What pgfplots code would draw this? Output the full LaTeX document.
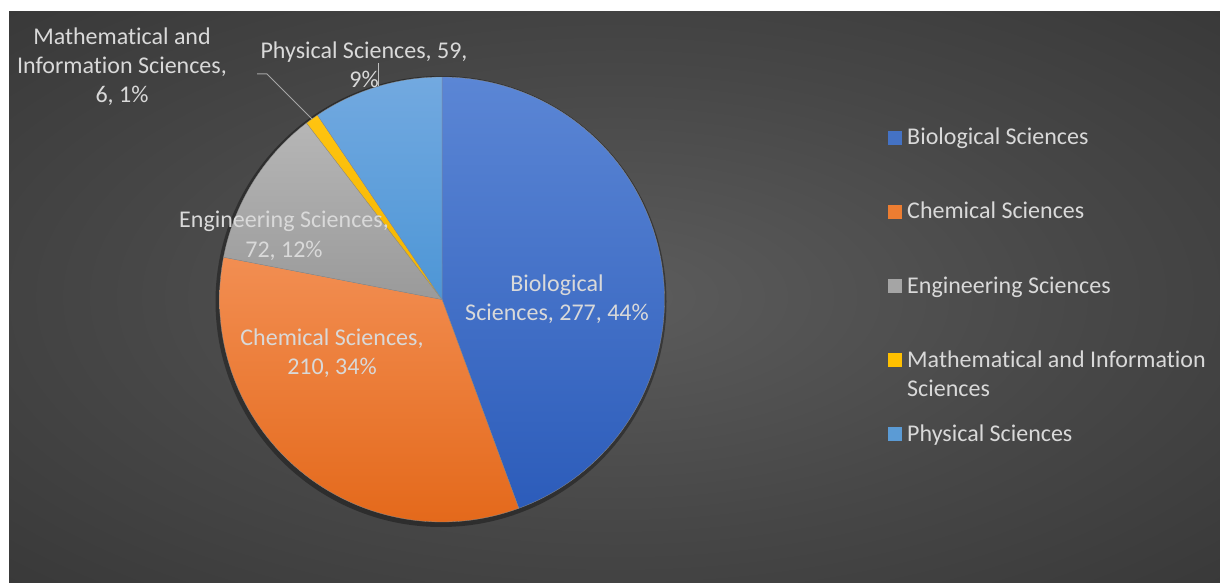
\documentclass[border=0pt]{standalone}
\usepackage{pgfplots}
\pgfplotsset{compat=1.18}
\usepackage{fontspec}
\setmainfont{Carlito}[Ligatures=NoCommon]
\definecolor{txt}{HTML}{D9D9D9}
\definecolor{bgin}{HTML}{5C5C5C}
\definecolor{bgmid}{HTML}{474747}
\definecolor{bgedge}{HTML}{2C2C2C}
\definecolor{bgcorner}{HTML}{222222}
\definecolor{bioT}{HTML}{5B86D5}
\definecolor{bioB}{HTML}{2C5CBA}
\definecolor{chemT}{HTML}{F28E52}
\definecolor{chemB}{HTML}{E4691B}
\definecolor{engT}{HTML}{B6B6B6}
\definecolor{engB}{HTML}{9A9A9A}
\definecolor{mathT}{HTML}{FFC410}
\definecolor{mathB}{HTML}{F2B400}
\definecolor{phyT}{HTML}{72A9E0}
\definecolor{phyB}{HTML}{4D96D6}
\definecolor{bio}{HTML}{4472C4}
\definecolor{chem}{HTML}{ED7D31}
\definecolor{eng}{HTML}{A5A5A5}
\definecolor{math}{HTML}{FFC000}
\definecolor{phy}{HTML}{5B9BD5}
\pgfdeclareradialshading{bgshade}{\pgfpoint{0bp}{0bp}}{color(0bp)=(bgin); color(20bp)=(bgmid); color(50bp)=(bgedge); color(72bp)=(bgcorner)}
\pgfplotstableread{
name value
Biological 277
Chemical 210
Engineering 72
Mathematical 6
Physical 59
}\piedata
\newcommand\lbl[3]{\node[font=\fontsize{24}{29}\selectfont, text=txt, inner sep=0pt, anchor=base] at (axis cs:#1,{582-#2}) {#3};}
\newcommand\leg[3]{\node[font=\fontsize{24}{29}\selectfont, text=txt, inner sep=0pt, anchor=base west] at (axis cs:#1,{582-#2}) {#3};}
\newcommand\sq[2]{\fill[#2] (axis cs:888,{582-#1+7}) rectangle (axis cs:902,{582-#1-7});}
\begin{document}
\begin{tikzpicture}
\pgfplotstablegetelem{0}{value}\of\piedata \let\vA\pgfplotsretval
\pgfplotstablegetelem{1}{value}\of\piedata \let\vB\pgfplotsretval
\pgfplotstablegetelem{2}{value}\of\piedata \let\vC\pgfplotsretval
\pgfplotstablegetelem{3}{value}\of\piedata \let\vD\pgfplotsretval
\pgfplotstablegetelem{4}{value}\of\piedata \let\vE\pgfplotsretval
\pgfmathsetmacro\tot{\vA+\vB+\vC+\vD+\vE}
\pgfmathsetmacro\aA{90}
\pgfmathsetmacro\aB{\aA-360*(\vA/\tot)}
\pgfmathsetmacro\aC{\aB-360*(\vB/\tot)}
\pgfmathsetmacro\aD{\aC-360*(\vC/\tot)}
\pgfmathsetmacro\aE{\aD-360*(\vD/\tot)}
\pgfmathsetmacro\aF{\aE-360*(\vE/\tot)}
\def\cx{442}\def\cy{282.5}\def\r{222.5}
\begin{axis}[width=1220pt, height=582pt, scale only axis, xmin=0, xmax=1220, ymin=0, ymax=582, hide axis, clip=false]
\fill[white] (axis cs:0,0) rectangle (axis cs:1220,582);
\shade[shading=bgshade] (axis cs:9,0) rectangle (axis cs:1220,570);
% shadow
\fill[black, opacity=0.35] (axis cs:{\cx-1},{\cy-2}) circle [radius=\r+3];
\addplot[draw=black!45, line width=0.3pt, top color=bioT, bottom color=bioB, domain=\aB:\aA, samples=90, variable=\t] ({\cx+\r*cos(\t)},{\cy+\r*sin(\t)}) -- (axis cs:\cx,\cy) -- cycle;
\addplot[draw=black!45, line width=0.3pt, top color=chemT, bottom color=chemB, domain=\aC:\aB, samples=70, variable=\t] ({\cx+\r*cos(\t)},{\cy+\r*sin(\t)}) -- (axis cs:\cx,\cy) -- cycle;
\addplot[draw=black!45, line width=0.3pt, top color=engT, bottom color=engB, domain=\aD:\aC, samples=30, variable=\t] ({\cx+\r*cos(\t)},{\cy+\r*sin(\t)}) -- (axis cs:\cx,\cy) -- cycle;
\addplot[draw=black!45, line width=0.3pt, top color=mathT, bottom color=mathB, domain=\aE:\aD, samples=6, variable=\t] ({\cx+\r*cos(\t)},{\cy+\r*sin(\t)}) -- (axis cs:\cx,\cy) -- cycle;
\addplot[draw=black!45, line width=0.3pt, top color=phyT, bottom color=phyB, domain=\aF:\aE, samples=30, variable=\t] ({\cx+\r*cos(\t)},{\cy+\r*sin(\t)}) -- (axis cs:\cx,\cy) -- cycle;
% leader lines
\draw[color=black!35, line width=1pt] (axis cs:257,{582-74}) -- (axis cs:267,{582-74}) -- (axis cs:312,{582-119});
\draw[color=black!25, line width=1pt] (axis cs:378,{582-63}) -- (axis cs:378,{582-86});
% data labels
\lbl{557}{291}{Biological}
\lbl{557}{320}{Sciences, 277, 44\%}
\lbl{332}{345}{Chemical Sciences,}
\lbl{332}{374}{210, 34\%}
\lbl{284}{227}{Engineering Sciences,}
\lbl{284}{257}{72, 12\%}
\lbl{122}{45}{Mathematical and}
\lbl{122}{74}{Information Sciences,}
\lbl{122}{103}{6, 1\%}
\lbl{364}{59}{Physical Sciences, 59,}
\lbl{364}{88}{9\%}
% legend
\sq{138}{bio}
\sq{212}{chem}
\sq{286}{eng}
\sq{360}{math}
\sq{434}{phy}
\leg{907}{145}{Biological Sciences}
\leg{907}{219}{Chemical Sciences}
\leg{907}{293}{Engineering Sciences}
\leg{907}{367}{Mathematical and Information}
\leg{907}{396}{Sciences}
\leg{907}{441}{Physical Sciences}
\end{axis}
\end{tikzpicture}
\end{document}
